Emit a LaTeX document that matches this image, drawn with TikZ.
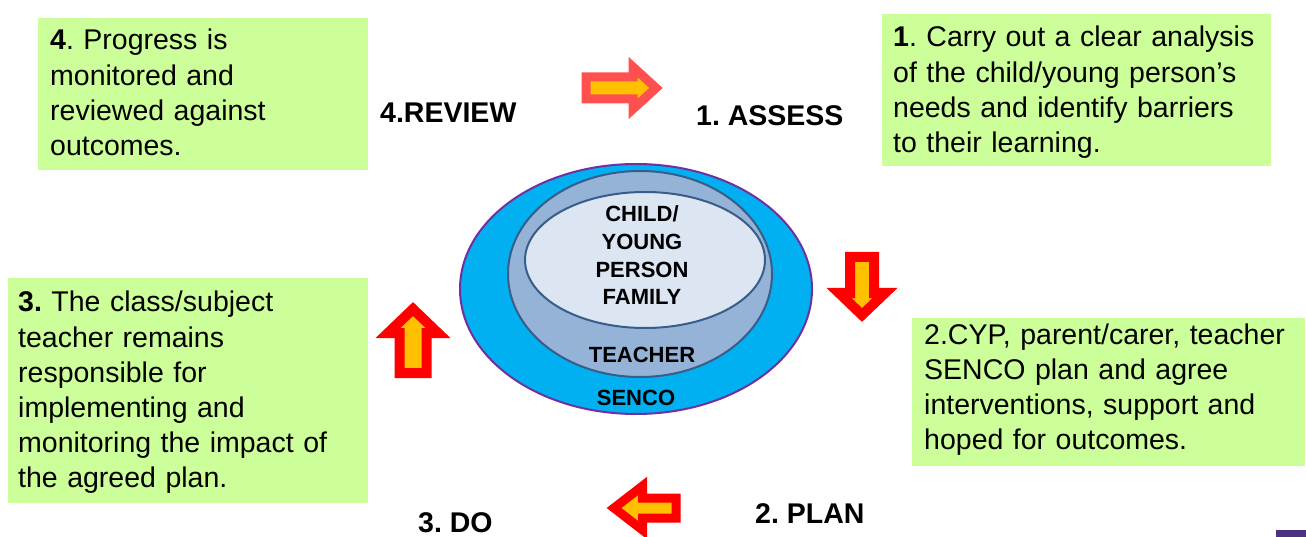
\documentclass[tikz,border=0pt]{standalone}
\usepackage{fontspec}
\setmainfont{Liberation Sans}
\usetikzlibrary{shapes.geometric}
\frenchspacing
\definecolor{boxgreen}{RGB}{204,255,153}
\definecolor{outerblue}{RGB}{0,176,240}
\definecolor{outerline}{RGB}{112,48,160}
\definecolor{midblue}{RGB}{149,179,215}
\definecolor{innerfill}{RGB}{220,230,242}
\definecolor{ringline}{RGB}{56,93,138}
\definecolor{arrowred}{RGB}{255,0,0}
\definecolor{arrowpink}{RGB}{255,80,80}
\definecolor{arrowfill}{RGB}{255,192,0}
\definecolor{barpurple}{RGB}{75,50,130}
\newcommand{\blkarrow}[9]{%
  \draw[blockarrow, draw=#8, line width=#9, shift={(#1,#2)}, rotate=#3]
    (-#4,-#6) -- (#5,-#6) -- (#5,-#7) -- (#4,0) -- (#5,#7) -- (#5,#6) -- (-#4,#6) -- cycle;}
\begin{document}
\frenchspacing
\begin{tikzpicture}[x=1pt,y=-1pt,
  box/.style={fill=boxgreen, draw=none, anchor=north west, inner sep=0pt},
  boxtext/.style={anchor=base west, inner sep=0pt, text width=#1, align=left,
    font=\fontsize{28.5}{35.2}\selectfont\frenchspacing},
  steplabel/.style={anchor=base west, inner sep=0pt, font=\fontsize{28.5}{34}\selectfont\bfseries\frenchspacing},
  ring/.style={shape=ellipse, line width=2pt, inner sep=0pt},
  ringtext/.style={anchor=base, inner sep=0pt, align=center, font=\fontsize{22}{27.7}\selectfont\bfseries},
  blockarrow/.style={fill=arrowfill, line join=miter, miter limit=10}]
\useasboundingbox (0,0) rectangle (1306,537);
\fill[white] (0,0) rectangle (1306,537);

% green boxes
\node[box, minimum width=330pt, minimum height=152pt] (b4) at (38,18) {};
\node[box, minimum width=389pt, minimum height=152pt] (b1) at (882,14) {};
\node[box, minimum width=360pt, minimum height=225pt] (b3) at (8,278) {};
\node[box, minimum width=393pt, minimum height=148pt] (b2) at (912,318) {};

\node[boxtext=310pt] (t4) at (50,50) {\textbf{4}. Progress is\\monitored and\\reviewed against\\outcomes.};
\node[boxtext=380pt] (t1) at (893,47) {\textbf{1}. Carry out a clear analysis\\of the child/young person’s\\needs and identify barriers\\to their learning.};
\node[boxtext=350pt] (t3) at (18,312) {\textbf{3.} The class/subject\\teacher remains\\responsible for\\implementing and\\monitoring the impact of\\the agreed plan.};
\node[boxtext=380pt] (t2) at (924,344) {2.CYP, parent/carer, teacher\\SENCO plan and agree\\interventions, support and\\hoped for outcomes.};

% step labels
\node[steplabel] (review) at (380,123) {4.REVIEW};
\node[steplabel] (assess) at (696,126) {1. ASSESS};
\node[steplabel] (plan) at (755,523) {2. PLAN};
\node[steplabel] (do) at (418,532) {3. DO};

% rings
\node[ring, draw=outerline, fill=outerblue, minimum width=352pt, minimum height=250pt] (senco) at (636,289) {};
\node[ring, draw=ringline, fill=midblue, minimum width=264pt, minimum height=206pt] (teacher) at (640,274) {};
\node[ring, draw=ringline, fill=innerfill, minimum width=240pt, minimum height=136pt] (child) at (645,260) {};

\node[ringtext] (childtext) at (642,305) {CHILD/\\YOUNG\\PERSON\\FAMILY};
\node[ringtext] (teachertext) at (642,362) {TEACHER};
\node[ringtext] (sencotext) at (636,405) {SENCO};

% block arrows
\blkarrow{621}{88}{0}{35}{12}{11}{21}{arrowpink}{9pt}
\blkarrow{862}{286}{-90}{29}{7}{12}{23}{arrowred}{10pt}
\blkarrow{645}{508}{180}{31}{2.5}{10}{22}{arrowred}{9pt}
\blkarrow{413}{341}{90}{32}{8}{13.5}{25}{arrowred}{10pt}

% corner bar
\fill[barpurple] (1276,530) rectangle (1306,537);
\end{tikzpicture}
\end{document}
